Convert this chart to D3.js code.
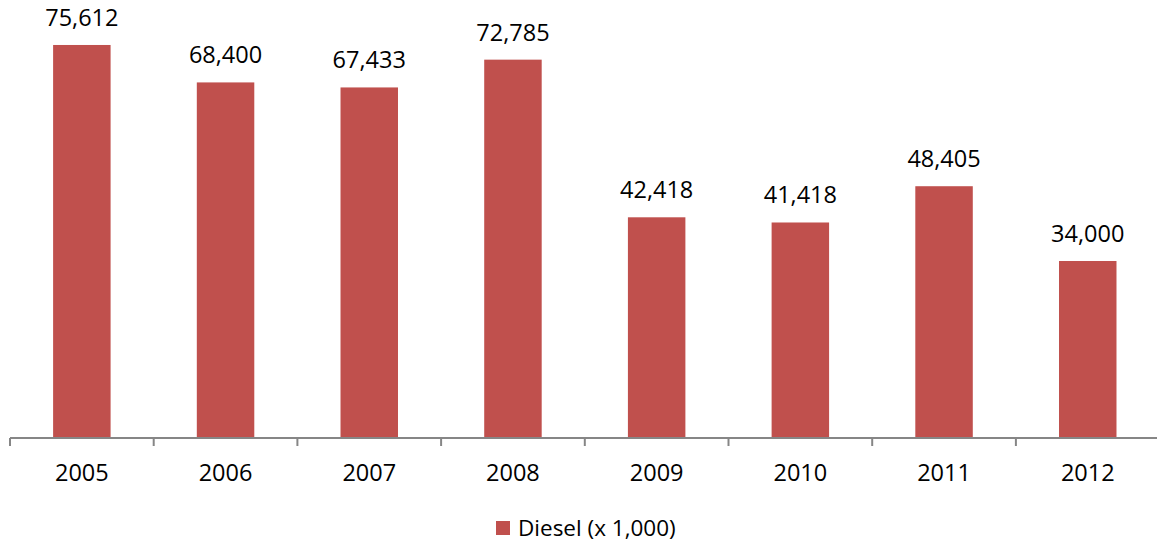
<!DOCTYPE html>
<html>
<head>
<meta charset="utf-8">
<script src="https://cdn.jsdelivr.net/npm/d3@7"></script>
<style>
  html, body { margin: 0; padding: 0; background: #fff; }
  svg { display: block; }
  text { font-family: "Open Sans", "Liberation Sans", sans-serif; fill: #000; }
</style>
</head>
<body>
<svg id="chart" width="1157" height="544"></svg>
<script>
// Diesel sales per year (x 1,000)
const years = ["2005", "2006", "2007", "2008", "2009", "2010", "2011", "2012"];
const diesel = [75612, 68400, 67433, 72785, 42418, 41418, 48405, 34000];
const seriesName = "Diesel (x 1,000)";

const width = 1157, height = 544;
const svg = d3.select("#chart");

const x = d3.scaleBand().domain(years).range([10, 1159.6]).paddingInner(0).paddingOuter(0);
const y = d3.scaleLinear().domain([0, 80000]).range([437.5, 22.2]);

const barColor = "#C0504D";
const axisColor = "#868686";
const fmt = d3.format(",");

const barW = x.bandwidth() * 0.4;

// bars
svg.append("g").selectAll("rect")
  .data(years.map((yr, i) => ({ yr, v: diesel[i] })))
  .join("rect")
  .attr("x", d => x(d.yr) + (x.bandwidth() - barW) / 2)
  .attr("y", d => y(d.v))
  .attr("width", barW)
  .attr("height", d => y(0) - y(d.v))
  .attr("fill", barColor);

// value labels
svg.append("g").selectAll("text")
  .data(years.map((yr, i) => ({ yr, v: diesel[i] })))
  .join("text")
  .attr("x", d => x(d.yr) + x.bandwidth() / 2)
  .attr("y", d => y(d.v) - 19)
  .attr("text-anchor", "middle")
  .style("font-size", "23.5px")
  .text(d => fmt(d.v));

// category axis with ticks between categories
const axisG = svg.append("g").attr("transform", `translate(0,${y(0) + 0.5})`);
axisG.append("line")
  .attr("x1", 10).attr("x2", width)
  .attr("stroke", axisColor).attr("stroke-width", 2);
const boundaries = years.map(yr => x(yr)).concat([x(years[years.length - 1]) + x.bandwidth()]);
axisG.selectAll("line.tick")
  .data(boundaries)
  .join("line")
  .attr("class", "tick")
  .attr("x1", d => d).attr("x2", d => d)
  .attr("y1", 0).attr("y2", 8)
  .attr("stroke", axisColor).attr("stroke-width", 2);
axisG.selectAll("text")
  .data(years)
  .join("text")
  .attr("x", d => x(d) + x.bandwidth() / 2)
  .attr("y", 43)
  .attr("text-anchor", "middle")
  .style("font-size", "23.5px")
  .text(d => d);

// legend
const legend = svg.append("g").attr("transform", "translate(496,521)");
legend.append("rect").attr("width", 14).attr("height", 14).attr("fill", barColor);
legend.append("text")
  .attr("x", 22).attr("y", 15)
  .style("font-size", "22.5px")
  .text(seriesName);
</script>
</body>
</html>
